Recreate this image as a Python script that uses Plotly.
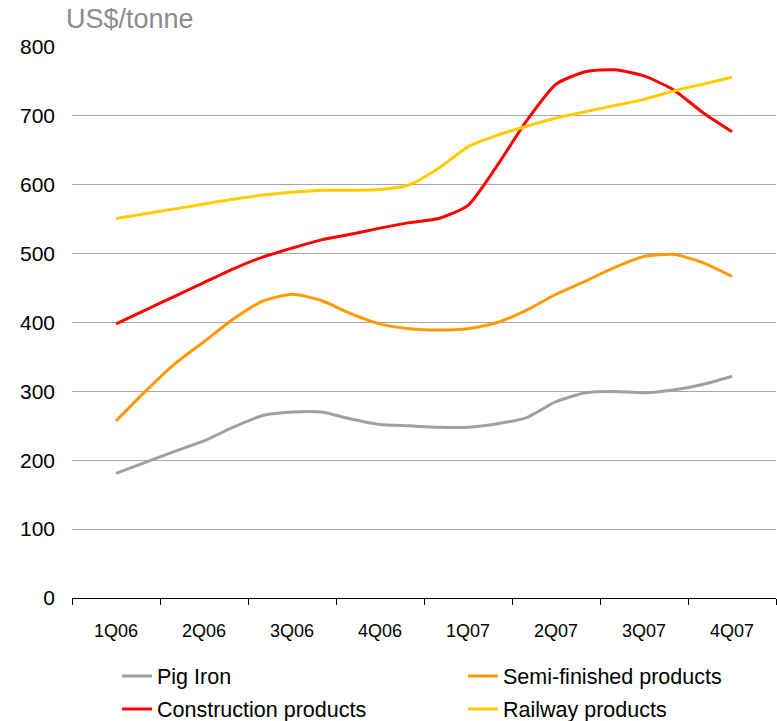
import plotly.graph_objects as go

# Quarter labels on the category axis
quarters = ["1Q06", "2Q06", "3Q06", "4Q06", "1Q07", "2Q07", "3Q07", "4Q07"]

# Monthly positions, expressed in quarters from 1Q06 (three per quarter)
months = [i / 3 for i in range(22)]

# Prices, US$/tonne
pig_iron = [181, 197, 213, 228, 248, 265, 270, 270, 260, 252, 250, 248,
            248, 253, 262, 285, 298, 300, 298, 302, 310, 322]
semi_finished = [257, 300, 340, 372, 405, 431, 441, 432, 413, 398, 391, 389,
                 391, 400, 418, 441, 460, 480, 496, 499, 487, 467]
construction = [398, 418, 438, 458, 478, 495, 508, 520, 528, 537, 545, 551,
                570, 628, 693, 746, 764, 767, 758, 738, 705, 677]
railway = [551, 558, 565, 572, 579, 585, 589, 592, 592, 593, 600, 624,
           655, 672, 685, 697, 706, 715, 724, 736, 746, 756]

series = [
    ("Pig Iron", pig_iron, "#a0a0a0"),
    ("Semi-finished products", semi_finished, "#ff9900"),
    ("Construction products", construction, "#ff0000"),
    ("Railway products", railway, "#ffcc00"),
]

# Each series gets its own legend box so the 2x2 key can be placed freely
legend_ids = ["legend", "legend2", "legend3", "legend4"]
legend_pos = [(117, 676), (463, 676), (117, 709), (463, 709)]

PLOT_L, PLOT_W, PLOT_BOTTOM, PLOT_H = 72, 704, 598, 551
font_family = "Liberation Sans, Arial, sans-serif"

fig = go.Figure()
for (name, vals, color), lid in zip(series, legend_ids):
    fig.add_trace(go.Scatter(
        x=months, y=vals, name=name, mode="lines", legend=lid,
        line=dict(color=color, width=3, shape="spline", smoothing=0.6),
    ))

legend_layout = {}
for lid, (px, py) in zip(legend_ids, legend_pos):
    legend_layout[lid] = dict(
        x=(px - PLOT_L) / PLOT_W, xanchor="left",
        y=(PLOT_BOTTOM - py) / PLOT_H, yanchor="middle",
        orientation="h", bgcolor="rgba(0,0,0,0)", borderwidth=0,
        font=dict(size=21.5, color="black", family=font_family),
    )

fig.update_layout(
    width=777, height=721,
    margin=dict(l=72, r=1, t=47, b=123, autoexpand=False),
    paper_bgcolor="white", plot_bgcolor="white",
    font=dict(family=font_family, color="black"),
    showlegend=True,
    xaxis=dict(
        range=[-0.5, 7.5],
        tickvals=list(range(len(quarters))), ticktext=quarters,
        ticks="", showgrid=False, zeroline=False,
        showline=True, linecolor="black", linewidth=1,
        tickfont=dict(size=18, color="black"),
        ticklabelstandoff=16,
        minor=dict(tick0=0.5, dtick=1, ticks="outside", ticklen=6,
                   tickcolor="black", tickwidth=1, showgrid=False),
    ),
    yaxis=dict(
        range=[0, 800], dtick=100,
        showgrid=True, gridcolor="#a6a6a6", gridwidth=1,
        zeroline=False, showline=False, ticks="",
        tickfont=dict(size=21, color="black"),
        ticklabelstandoff=16,
    ),
    annotations=[dict(
        text="US$/tonne", xref="paper", yref="paper",
        x=-0.012, y=1.02, xanchor="left", yanchor="bottom",
        showarrow=False, font=dict(size=27, color="#8c8c8c"),
    )],
    **legend_layout,
)

fig.write_html("out.html")
